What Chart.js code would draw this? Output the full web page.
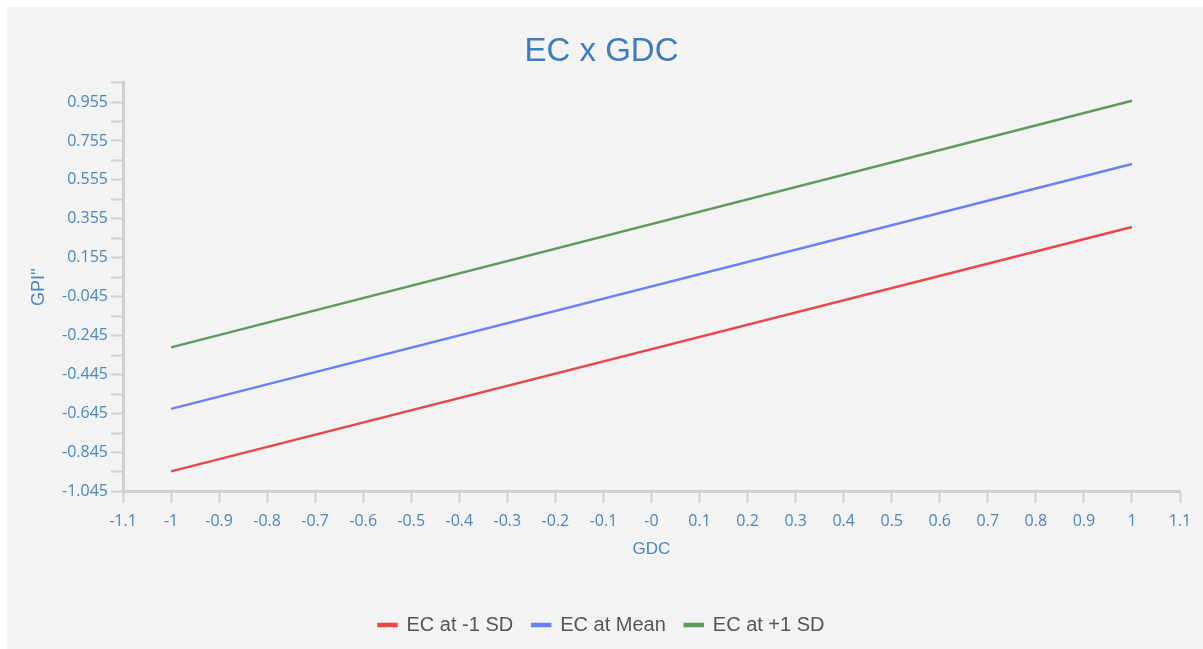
<!DOCTYPE html>
<html>
<head>
<meta charset="utf-8">
<script src="https://cdn.jsdelivr.net/npm/chart.js@4/dist/chart.umd.min.js"></script>
<style>
  html, body { margin: 0; padding: 0; background: #ffffff; }
  #wrap { position: absolute; left: 7px; top: 7px; width: 1196px; height: 642px; background: #f3f3f3; }
</style>
</head>
<body>
<div id="wrap"><canvas id="chart_ecGdc"></canvas></div>
<script>
// GDC values on the x axis
var gdcValues = [-1, 1];
// predicted GPI'' for each EC level
var ecLowSD = [-0.942, 0.313];
var ecMean = [-0.621, 0.637];
var ecHighSD = [-0.305, 0.962];

var seriesNames = ['EC at -1 SD', 'EC at Mean', 'EC at +1 SD'];

var xTickValues = [-1.1, -1, -0.9, -0.8, -0.7, -0.6, -0.5, -0.4, -0.3, -0.2, -0.1, 0, 0.1, 0.2, 0.3, 0.4, 0.5, 0.6, 0.7, 0.8, 0.9, 1, 1.1];
var xTickLabels = ['-1.1', '-1', '-0.9', '-0.8', '-0.7', '-0.6', '-0.5', '-0.4', '-0.3', '-0.2', '-0.1', '-0', '0.1', '0.2', '0.3', '0.4', '0.5', '0.6', '0.7', '0.8', '0.9', '1', '1.1'];
var yTickValues = [-1.045, -0.945, -0.845, -0.745, -0.645, -0.545, -0.445, -0.345, -0.245, -0.145, -0.045, 0.055, 0.155, 0.255, 0.355, 0.455, 0.555, 0.655, 0.755, 0.855, 0.955, 1.055];
var yTickLabels = ['-1.045', '', '-0.845', '', '-0.645', '', '-0.445', '', '-0.245', '', '-0.045', '', '0.155', '', '0.355', '', '0.555', '', '0.755', '', '0.955', ''];

function toPoints(ys) {
    return gdcValues.map(function (x, i) { return { x: x, y: ys[i] }; });
}

var blueText = '#4a86bf';
var axisGray = '#cfcfcf';

var chart_ecGdc = new Chart(document.getElementById('chart_ecGdc'), {
    type: 'line',
    data: {
        datasets: [
            {
                label: seriesNames[0],
                data: toPoints(ecLowSD),
                borderColor: '#e8474b',
                backgroundColor: '#e8474b',
                borderWidth: 2.5
            },
            {
                label: seriesNames[1],
                data: toPoints(ecMean),
                borderColor: '#6b80f2',
                backgroundColor: '#6b80f2',
                borderWidth: 2.5
            },
            {
                label: seriesNames[2],
                data: toPoints(ecHighSD),
                borderColor: '#5e9a5e',
                backgroundColor: '#5e9a5e',
                borderWidth: 2.5
            }
        ]
    },
    options: {
        animation: false,
        responsive: true,
        maintainAspectRatio: false,
        elements: { point: { radius: 0 } },
        layout: { padding: { left: 16, right: 23, top: 0, bottom: 4 } },
        plugins: {
            title: {
                display: true,
                text: 'EC x GDC',
                color: '#3d7cc0',
                font: { family: 'Liberation Sans', size: 33, weight: 'normal' },
                padding: { top: 25, bottom: 11 }
            },
            legend: {
                position: 'bottom',
                labels: {
                    color: '#555555',
                    font: { family: 'Liberation Sans', size: 20 },
                    boxWidth: 18,
                    boxHeight: 2,
                    padding: 19
                }
            },
            tooltip: { enabled: false }
        },
        scales: {
            x: {
                type: 'linear',
                min: -1.1,
                max: 1.1,
                afterBuildTicks: function (scale) {
                    scale.ticks = xTickValues.map(function (v) { return { value: v }; });
                },
                ticks: {
                    color: blueText,
                    font: { family: 'Open Sans', size: 16 },
                    padding: 9,
                    maxRotation: 0,
                    autoSkip: false,
                    callback: function (value, index) { return xTickLabels[index]; }
                },
                grid: { drawOnChartArea: false, tickLength: 11, color: axisGray, tickWidth: 2 },
                border: { color: axisGray, width: 3 },
                title: {
                    display: true,
                    text: 'GDC',
                    color: blueText,
                    font: { family: 'Liberation Sans', size: 17 },
                    padding: { top: 0, bottom: 36 }
                }
            },
            y: {
                type: 'linear',
                min: -1.045,
                max: 1.055,
                afterBuildTicks: function (scale) {
                    scale.ticks = yTickValues.map(function (v) { return { value: v }; });
                },
                afterFit: function (scale) { scale.width = 100; },
                ticks: {
                    color: blueText,
                    font: { family: 'Open Sans', size: 16 },
                    padding: 3,
                    autoSkip: false,
                    callback: function (value, index) { return yTickLabels[index]; }
                },
                grid: { drawOnChartArea: false, tickLength: 12, color: axisGray, tickWidth: 2 },
                border: { color: axisGray, width: 3 },
                title: {
                    display: true,
                    text: "GPI''",
                    color: blueText,
                    font: { family: 'Liberation Sans', size: 18 },
                    padding: { top: 5, bottom: 0 }
                }
            }
        }
    }
});
</script>
</body>
</html>
